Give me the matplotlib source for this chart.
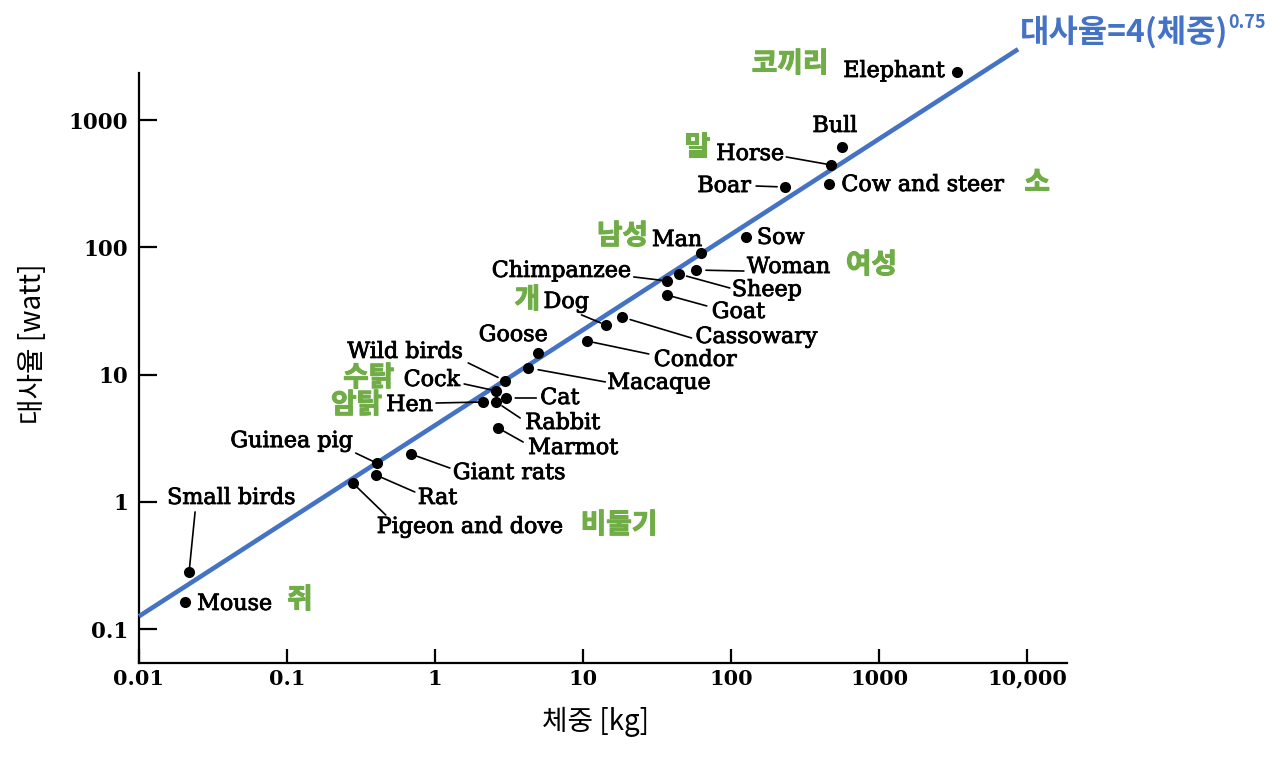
import numpy as np
import matplotlib
matplotlib.use('Agg')
import matplotlib.pyplot as plt
import matplotlib.patheffects as pe
from matplotlib.ticker import NullLocator

# ---------------- data ----------------
names = ["Mouse", "Small birds", "Pigeon and dove", "Rat", "Guinea pig", "Giant rats",
         "Marmot", "Hen", "Rabbit", "Cat", "Cock", "Wild birds", "Macaque", "Goose",
         "Condor", "Dog", "Cassowary", "Goat", "Chimpanzee", "Sheep", "Woman", "Man",
         "Sow", "Boar", "Cow and steer", "Horse", "Bull", "Elephant"]
mass = [0.0205, 0.0218, 0.278, 0.398, 0.404, 0.687,
        2.67, 2.11, 2.59, 3.03, 2.59, 2.98, 4.27, 4.99,
        10.6, 14.2, 18.2, 36.8, 36.8, 44.4, 57.9, 62.6,
        126, 232, 462, 476, 566, 3352]
rate = [0.164, 0.282, 1.41, 1.63, 2.02, 2.38,
        3.81, 6.1, 6.1, 6.56, 7.45, 8.93, 11.3, 14.8,
        18.4, 24.6, 28.4, 42.3, 54.5, 61.8, 66.4, 90.3,
        121, 298, 315, 444, 615, 2388]

kor_names = ["쥐", "비둘기", "수탉", "암탉", "개", "남성", "여성", "소", "말", "코끼리"]
kor_of = ["Mouse", "Pigeon and dove", "Cock", "Hen", "Dog", "Man", "Woman",
          "Cow and steer", "Horse", "Elephant"]

x_ticks = [0.01, 0.1, 1, 10, 100, 1000, 10000]
x_ticklabels = ["0.01", "0.1", "1", "10", "100", "1000", "10,000"]
y_ticks = [0.1, 1, 10, 100, 1000]
y_ticklabels = ["0.1", "1", "10", "100", "1000"]

fit_coef = 4.0
fit_exp = 0.75
fit_range = [0.01, 8700]

title_main = "대사율=4(체중)"
title_sup = "0.75"
xlabel = "체중 [kg]"
ylabel = "대사율 [watt]"

# ---------------- layout (pixel offsets from each dot) ----------------
label_pos = {  # name: (dx, dy, ha)
    "Mouse": (12, -2, "left"), "Small birds": (-22, 74, "left"),
    "Pigeon and dove": (24, -44, "left"), "Rat": (42, -23, "left"),
    "Guinea pig": (-24, 22, "right"), "Giant rats": (42, -19, "left"),
    "Marmot": (30, -20, "left"), "Hen": (-50, -3, "right"),
    "Rabbit": (29, -21, "left"), "Cat": (34, 0, "left"),
    "Cock": (-36, 11, "right"), "Wild birds": (-42, 29, "right"),
    "Macaque": (79, -15, "left"), "Goose": (-25, 18, "center"),
    "Condor": (67, -19, "left"), "Dog": (-62, 23, "left"),
    "Cassowary": (74, -20, "left"), "Goat": (45, -17, "left"),
    "Chimpanzee": (-36, 10, "right"), "Sheep": (53, -16, "left"),
    "Woman": (51, 3, "left"), "Man": (-49, 13, "left"),
    "Sow": (11, -1, "left"), "Boar": (-34, 1, "right"),
    "Cow and steer": (12, -1, "left"), "Horse": (-47, 11, "right"),
    "Bull": (-30, 21, "left"), "Elephant": (-12, 1, "right"),
}
leader = {  # name: (far end dx, dy, gap near dot in px)
    "Small birds": (6, 60, 5), "Pigeon and dove": (33, -32, 6), "Rat": (39, -17, 5),
    "Guinea pig": (-21, 10, 4), "Giant rats": (39, -14, 6), "Marmot": (25, -14, 6),
    "Rabbit": (24, -16, 7), "Cat": (30, 0, 9), "Hen": (-47, -1, 5),
    "Cock": (-32, 7, 4), "Wild birds": (-37, 18, 8), "Macaque": (77, -14, 10),
    "Condor": (62, -13, 7), "Dog": (-24, 10, 5), "Cassowary": (70, -21, 9),
    "Goat": (40, -11, 5), "Chimpanzee": (-33, 4, 5), "Sheep": (51, -14, 8),
    "Woman": (48, -1, 10), "Boar": (-29, 1, 8), "Horse": (-45, 8, 5),
}
kor_pos = [(102, 2), (228, -42), (-153, 13), (-152, -3), (-91, 25), (-104, 17),
           (150, 5), (195, 1), (-147, 18), (-205, 8)]

GREEN = "#70AD47"
BLUE = "#4472C4"
SERIF = "DejaVu Serif"
KR = ["Noto Sans CJK KR", "DejaVu Sans"]
heavy = [pe.withStroke(linewidth=0.6, foreground="black")]

fig = plt.figure(figsize=(12.8, 7.62), dpi=100)
ax = fig.add_axes([139 / 1280, 1 - 663 / 762, (1067 - 139) / 1280, (663 - 73) / 762])
ax.set_xscale("log")
ax.set_yscale("log")
ax.set_xlim(10 ** -2.0, 10 ** 4.27)
ax.set_ylim(10 ** -1.265, 10 ** 3.37)

for s in ["top", "right"]:
    ax.spines[s].set_visible(False)
for s in ["left", "bottom"]:
    ax.spines[s].set_linewidth(1.6)

ax.set_xticks(x_ticks)
ax.set_xticklabels(x_ticklabels)
ax.set_yticks(y_ticks)
ax.set_yticklabels(y_ticklabels)
ax.xaxis.set_minor_locator(NullLocator())
ax.yaxis.set_minor_locator(NullLocator())
ax.tick_params(axis="y", direction="in", length=13, width=1.6, pad=8)
ax.tick_params(axis="x", direction="in", length=10, width=1.6, pad=4)
for lab in ax.get_yticklabels():
    lab.set_fontfamily(SERIF)
    lab.set_fontweight("bold")
    lab.set_fontsize(15.5)
for lab in ax.get_xticklabels():
    lab.set_fontfamily(SERIF)
    lab.set_fontweight("bold")
    lab.set_fontsize(15)

# fit line
fx = np.array(fit_range)
ax.plot(fx, fit_coef * fx ** fit_exp, color=BLUE, lw=3.3, solid_capstyle="butt",
        zorder=3, clip_on=False)

# dots
ax.scatter(mass, rate, s=64, color="black", zorder=4, clip_on=False, linewidths=0)

idx = {n: i for i, n in enumerate(names)}
for n in names:
    i = idx[n]
    dx, dy, ha = label_pos[n]
    ax.annotate(n, xy=(mass[i], rate[i]), xytext=(dx, dy), textcoords="offset pixels",
                ha=ha, va="center", fontsize=16, family=SERIF, color="black", zorder=5,
                annotation_clip=False, path_effects=heavy)
    if n in leader:
        lx, ly, gap = leader[n]
        ax.annotate("", xy=(mass[i], rate[i]), xytext=(lx, ly), textcoords="offset pixels",
                    annotation_clip=False,
                    arrowprops=dict(arrowstyle="-", lw=1.2, color="black",
                                    shrinkA=0, shrinkB=gap * 0.72))

for k, n, (dx, dy) in zip(kor_names, kor_of, kor_pos):
    i = idx[n]
    ax.annotate(k, xy=(mass[i], rate[i]), xytext=(dx, dy), textcoords="offset pixels",
                ha="left", va="center", fontsize=20, family=KR, fontweight="bold",
                color=GREEN, zorder=5, annotation_clip=False,
                path_effects=[pe.withStroke(linewidth=0.8, foreground=GREEN)])

# title formula
t = fig.text(1020 / 1280, 1 - 32 / 762, title_main, ha="left", va="center",
             fontsize=23, family=KR, fontweight="bold", color=BLUE)
ax.annotate(title_sup, xy=(1.0, 0.78), xycoords=t, ha="left", va="center",
            fontsize=13, family=KR, fontweight="bold", color=BLUE, annotation_clip=False)

fig.text(33 / 1280, 1 - 344 / 762, ylabel, rotation=90, ha="center", va="center",
         fontsize=20, family=KR)
fig.text(596 / 1280, 1 - 722 / 762, xlabel, ha="center", va="center",
         fontsize=20, family=KR)

fig.savefig("out.png", dpi=100, facecolor="white")
